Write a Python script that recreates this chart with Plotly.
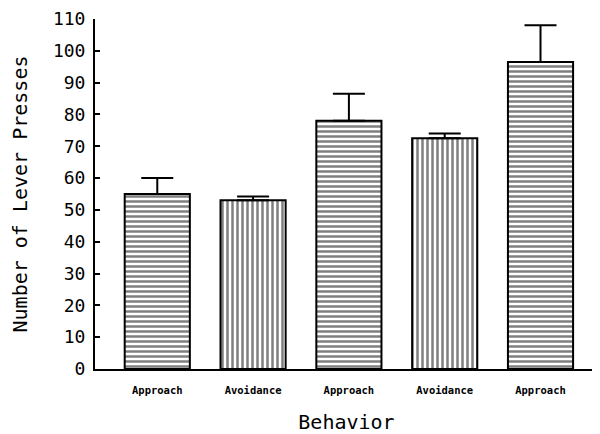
import plotly.graph_objects as go

categories = ["Approach", "Avoidance", "Approach", "Avoidance", "Approach"]
means = [55, 53, 78, 72.5, 96.5]
errors = [5, 1.2, 8.5, 1.5, 11.5]
patterns = ["-", "|", "-", "|", "-"]
y_ticks = list(range(0, 111, 10))

x_pos = list(range(len(categories)))

fig = go.Figure()
fig.add_trace(go.Bar(
    x=x_pos,
    y=means,
    width=0.68,
    marker=dict(
        color="white",
        line=dict(color="black", width=2),
        pattern=dict(shape=patterns, fgcolor="black", bgcolor="white",
                     size=5, solidity=0.5),
    ),
    error_y=dict(type="data", array=errors, arrayminus=[0] * len(errors),
                 symmetric=False, color="black", thickness=2, width=16),
    showlegend=False,
))

mono = "DejaVu Sans Mono"
# page body has an 8px default margin, so the figure is sized/offset to compensate
fig.update_layout(
    width=592, height=426,
    margin=dict(l=87, r=2, t=11, b=65),
    paper_bgcolor="white", plot_bgcolor="white",
    font=dict(family=mono, color="black"),
)
fig.update_xaxes(
    range=[-0.65, 4.6],
    automargin=False,
    tickmode="array", tickvals=x_pos, ticktext=categories,
    tickfont=dict(family=mono, size=10.5, color="black", weight="bold"),
    showline=True, linecolor="black", linewidth=2,
    showgrid=False, zeroline=False, ticks="",
    ticklabelstandoff=10,
    title=dict(text="Behavior", font=dict(family=mono, size=20), standoff=25),
)
fig.update_yaxes(
    range=[0, 110],
    automargin=False,
    tickmode="array", tickvals=y_ticks,
    tickfont=dict(family=mono, size=18, color="black"),
    showline=True, linecolor="black", linewidth=2,
    ticks="inside", ticklen=5, tickwidth=2, tickcolor="black",
    showgrid=False, zeroline=False,
    ticklabelstandoff=4,
    title=dict(text="Number of Lever Presses", font=dict(family=mono, size=20), standoff=30),
)

fig.write_html("out.html")
